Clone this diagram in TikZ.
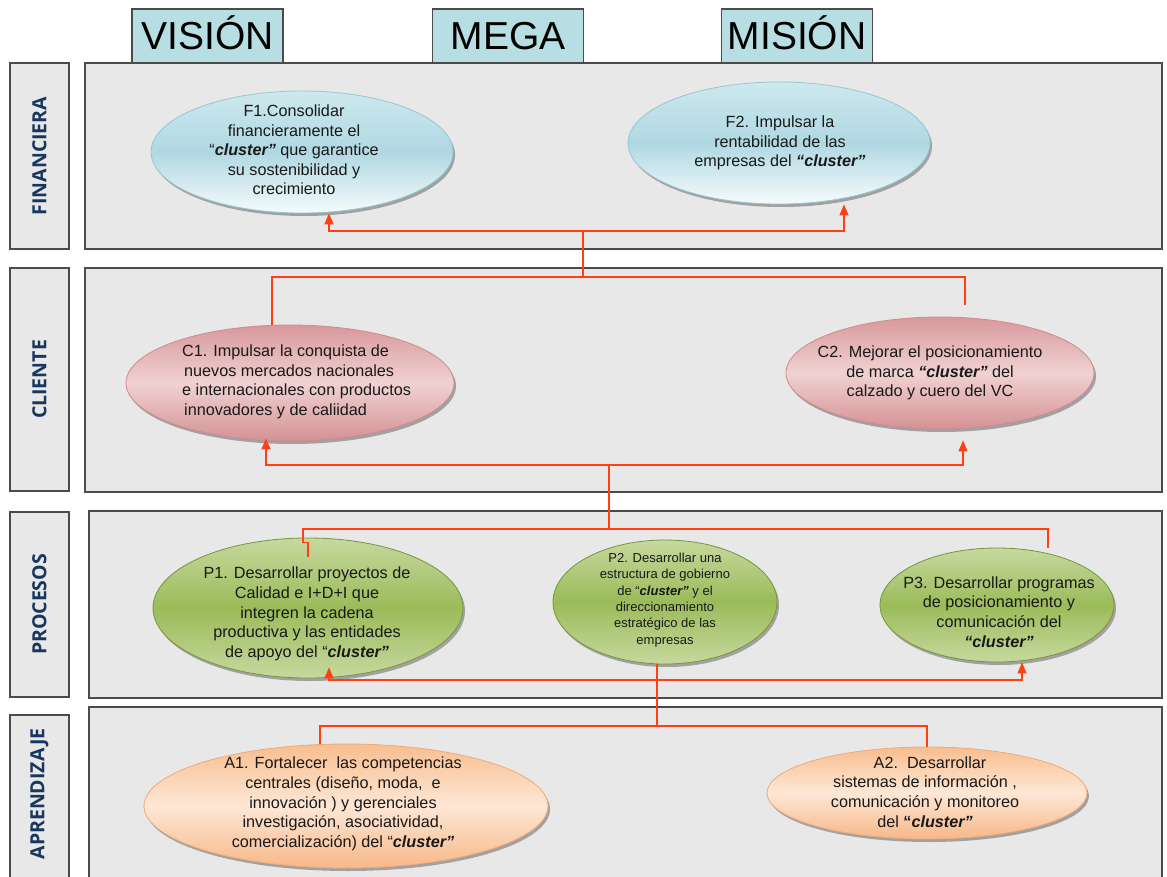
\documentclass[tikz,border=0pt]{standalone}
\usepackage{fontspec}
\setmainfont{Liberation Sans}
\newfontfamily\labfont{Open Sans}
\usetikzlibrary{shapes.geometric,shadows,arrows.meta,calc}
\definecolor{panelfill}{RGB}{232,232,232}
\definecolor{panelborder}{RGB}{75,75,75}
\definecolor{headfill}{RGB}{183,222,226}
\definecolor{navy}{RGB}{23,55,94}
\definecolor{conncol}{RGB}{255,64,20}
\definecolor{txtcol}{RGB}{25,25,25}
\definecolor{fTop}{RGB}{205,232,238}
\definecolor{fMid}{RGB}{176,216,226}
\definecolor{fBot}{RGB}{245,251,252}
\definecolor{fEdge}{RGB}{150,200,210}
\definecolor{cTop}{RGB}{216,152,155}
\definecolor{cMid}{RGB}{240,210,210}
\definecolor{cBot}{RGB}{212,145,148}
\definecolor{cEdge}{RGB}{205,140,142}
\definecolor{pTop}{RGB}{198,217,158}
\definecolor{pMid}{RGB}{155,187,89}
\definecolor{pBot}{RGB}{198,217,158}
\definecolor{pEdge}{RGB}{120,150,60}
\definecolor{aTop}{RGB}{249,190,142}
\definecolor{aMid}{RGB}{253,231,214}
\definecolor{aBot}{RGB}{247,184,136}
\definecolor{aEdge}{RGB}{240,170,120}
\newcommand{\clu}{\textbf{\textit{cluster”}}}
\newcommand{\fclu}{\textbf{\textit{“cluster”}}}
\begin{document}
\begin{tikzpicture}[x=1pt,y=-1pt,
  panel/.style={draw=panelborder, line width=1.5pt, fill=panelfill, inner sep=0pt},
  labbox/.style={draw=panelborder, line width=1.5pt, fill=panelfill, inner sep=0pt,
    minimum width=59pt, text=navy, font=\labfont\bfseries\fontsize{19.5}{20}\selectfont},
  labtxt/.style={text=navy, font=\labfont\bfseries\fontsize{19.5}{20}\selectfont, inner sep=0pt},
  headbox/.style={draw=panelborder, line width=1.2pt, fill=headfill, inner sep=0pt,
    minimum width=151pt, minimum height=54pt, text height=28pt, text depth=0pt,
    font=\fontsize{39}{39}\selectfont},
  ell/.style={ellipse, inner sep=0pt, line width=0.8pt,
    drop shadow={shadow xshift=2pt, shadow yshift=-3pt, opacity=0.3, fill=black}},
  fell/.style={ell, draw=fEdge, top color=fTop, bottom color=fBot, middle color=fMid},
  cell/.style={ell, draw=cEdge, top color=cTop, bottom color=cBot, middle color=cMid},
  pell/.style={ell, draw=pEdge, top color=pTop, bottom color=pBot, middle color=pMid},
  aell/.style={ell, draw=aEdge, top color=aTop, bottom color=aBot, middle color=aMid},
  etxt/.style={align=center, text=txtcol, inner sep=0pt, font=\fontsize{16.2}{19.6}\selectfont},
  conn/.style={draw=conncol, line width=1.3pt},
  arr/.style={-{Triangle[length=11pt,width=9pt]}}
]
\path[use as bounding box] (0,0) rectangle (1167,877);
\clip (0,0) rectangle (1167,877);

% panels
\node[panel, minimum width=1077pt, minimum height=186pt] (pF) at (623.5,156) {};
\node[panel, minimum width=1077pt, minimum height=224pt] (pC) at (623.5,380) {};
\node[panel, minimum width=1073pt, minimum height=187pt] (pP) at (625.5,604.5) {};
\node[panel, minimum width=1073pt, minimum height=193pt] (pA) at (625.5,803.5) {};

% header boxes
\node[headbox] (hV) at (207.5,36) {VISIÓN};
\node[headbox] (hM) at (508,36) {MEGA};
\node[headbox] (hS) at (797,36) {MISIÓN};

% side labels
\node[labbox, minimum height=186pt] (lF) at (39.5,156) {\rotatebox{90}{FINANCIERA}};
\node[labbox, minimum height=223pt] (lC) at (39.5,379.5) {\rotatebox{90}{CLIENTE}};
\node[labbox, minimum height=185pt] (lP) at (39.5,604.5) {\rotatebox{90}{PROCESOS}};
\node[labbox, minimum height=185pt] (lA) at (39.5,807.5) {};
\node[labtxt] (lAt) at (39.5,794) {\rotatebox{90}{APRENDIZAJE}};

% ellipses
\node[fell, minimum width=302pt, minimum height=122pt] (F1) at (302,152) {};
\node[fell, minimum width=302pt, minimum height=122pt] (F2) at (779,143) {};
\node[cell, minimum width=328pt, minimum height=116pt] (C1) at (290,383) {};
\node[cell, minimum width=308pt, minimum height=112pt] (C2) at (940,373) {};
\node[pell, minimum width=310pt, minimum height=140pt] (P1) at (308,608) {};
\node[pell, minimum width=224pt, minimum height=124pt] (P2) at (665,602) {};
\node[pell, minimum width=234pt, minimum height=114pt] (P3) at (997,605) {};
\node[aell, minimum width=404pt, minimum height=124pt] (A1) at (346,806) {};
\node[aell, minimum width=320pt, minimum height=92pt] (A2) at (927,793) {};

% texts
\node[etxt] (F1t) at (294,150) {F1.Consolidar\\ financieramente el\\ “\clu{} que garantice\\ su sostenibilidad y\\ crecimiento};
\node[etxt] (F2t) at (780,143) {F2. Impulsar la\\ rentabilidad de las\\ empresas del \fclu};
\node[etxt, align=left, anchor=west] (C1t) at (182,382) {C1. Impulsar la conquista de\\ \hspace{2pt}nuevos mercados nacionales\\ e internacionales con productos\\ \hspace{2pt}innovadores y de caliidad};
\node[etxt] (C2t) at (930,373) {C2. Mejorar el posicionamiento\\ de marca \fclu{} del\\ calzado y cuero del VC};
\node[etxt] (P1t) at (307,614) {P1. Desarrollar proyectos de\\ Calidad e I+D+I que\\ integren la cadena\\ productiva y las entidades\\ de apoyo del “\clu};
\node[etxt, font=\fontsize{13}{16.3}\selectfont] (P2t) at (665,600) {P2. Desarrollar una\\ estructura de gobierno\\ de “\clu{} y el\\ direccionamiento\\ estratégico de las\\ empresas};
\node[etxt] (P3t) at (999,612) {P3. Desarrollar programas\\ de posicionamiento y\\ comunicación del\\ \fclu};
\node[etxt] (A1t) at (343,804) {A1. Fortalecer\ \ las competencias\\ centrales (diseño, moda,\ \ e\\ innovación ) y gerenciales\\ investigación, asociatividad,\\ comercialización) del “\clu};
\node[etxt] (A2t) at (925,792) {\hspace{10pt}A2.\ \ Desarrollar\\ sistemas de información ,\\ comunicación y monitoreo\\ del \textbf{“\textit{cluster”}}};

% junctions
\coordinate (fj) at (583,231);
\coordinate (cj) at (583,277);
\coordinate (cbj) at (609,465);
\coordinate (pj) at (609,529);
\coordinate (pbj) at (657,680);
\coordinate (aj) at (657,726);

% connectors Cliente -> Financiera
\draw[conn] ([xshift=-18pt]C1.north) |- (cj) -- (fj);
\draw[conn] ([xshift=25pt,yshift=12pt]C2.north) |- (cj);
\draw[conn,arr] (fj) -| ([xshift=27pt]F1.south);
\draw[conn,arr] (fj) -| ([xshift=65pt]F2.south);

% Procesos -> Cliente
\draw[conn] (pj) -- (cbj);
\draw[conn,arr] (cbj) -| ([xshift=-24pt,yshift=3pt]C1.south);
\draw[conn,arr] (cbj) -| ([xshift=23pt,yshift=-11pt]C2.south);
\draw[conn] ([yshift=-19pt]P1.north) -- ++(0,-14) -- ++(-5,0) |- (pj);
\draw[conn] ([xshift=51pt]P3.north) |- (pj);

% Aprendizaje -> Procesos
\draw[conn] ([xshift=-8pt]P2.south) -- (aj);
\draw[conn,arr] (pbj) -| ([xshift=21pt,yshift=11pt]P1.south);
\draw[conn,arr] (pbj) -| ([xshift=25pt]P3.south);
\draw[conn] ([xshift=-26pt]A1.north) |- (aj);
\draw[conn] (A2.north) |- (aj);
\end{tikzpicture}
\end{document}
